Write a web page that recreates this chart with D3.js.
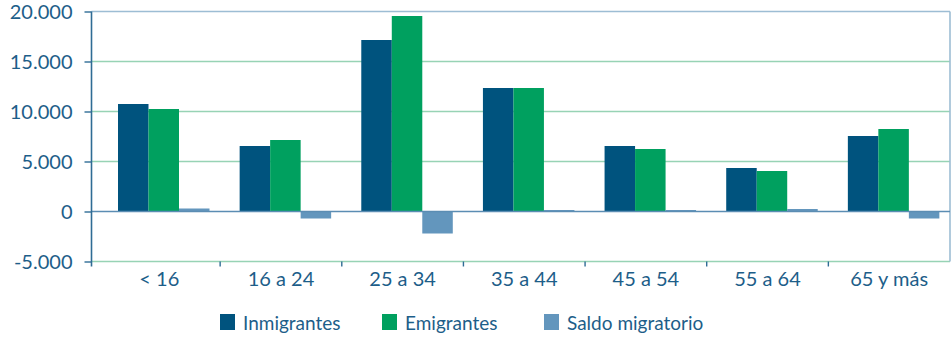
<!DOCTYPE html>
<html><head><meta charset="utf-8">
<script src="https://cdn.jsdelivr.net/npm/d3@7"></script>
<style>body{margin:0;background:#fff}svg{display:block}</style>
</head><body>
<svg id="c" width="952" height="341"></svg>
<script>
const categories = ["< 16","16 a 24","25 a 34","35 a 44","45 a 54","55 a 64","65 y más"];
const inmigrantes = [10750, 6550, 17150, 12350, 6550, 4350, 7550];
const emigrantes  = [10250, 7150, 19550, 12350, 6250, 4050, 8250];
const saldo       = [300, -700, -2200, 150, 150, 250, -700];
const seriesNames = ["Inmigrantes","Emigrantes","Saldo migratorio"];
const yTicks = [-5000, 0, 5000, 10000, 15000, 20000];

const colors = ["#00537e","#00a05f","#6396bd"];
const textColor = "#1d5e89";
const font = "Lato, 'Open Sans', sans-serif";

const svg = d3.select("#c");
const L = 91.5, R = 950, T = 11.5, B = 261.5;
const y = d3.scaleLinear().domain([-5000, 20000]).range([B, T]);
const x0 = d3.scaleBand().domain(categories).range([98.5, R]).padding(0);
const x1 = d3.scaleBand().domain(seriesNames).range([19.5, 19.5 + 91.5]).padding(0);

// gridlines
svg.append("g").selectAll("line").data(yTicks.filter(v => v !== 0 && v !== 20000)).join("line")
  .attr("x1", L).attr("x2", R).attr("y1", d => y(d)).attr("y2", d => y(d))
  .attr("stroke", "#97d3b5").attr("stroke-width", 1.6);
// top line
svg.append("line").attr("x1", L).attr("x2", R).attr("y1", y(20000)).attr("y2", y(20000))
  .attr("stroke", "#9dbdd4").attr("stroke-width", 1.6);
// right border
svg.append("line").attr("x1", R).attr("x2", R).attr("y1", T).attr("y2", B)
  .attr("stroke", "#9dbdd4").attr("stroke-width", 1.6);

// bars
const data = categories.map((c, i) => ({c, v: [inmigrantes[i], emigrantes[i], saldo[i]]}));
const g = svg.append("g").selectAll("g").data(data).join("g")
  .attr("transform", d => `translate(${x0(d.c)},0)`);
g.selectAll("rect").data(d => d.v.map((v, k) => ({k, v}))).join("rect")
  .attr("x", d => x1(seriesNames[d.k]))
  .attr("width", x1.bandwidth())
  .attr("y", d => y(Math.max(0, d.v)))
  .attr("height", d => Math.abs(y(d.v) - y(0)))
  .attr("fill", d => colors[d.k]);

// zero line
svg.append("line").attr("x1", L).attr("x2", R).attr("y1", y(0)).attr("y2", y(0))
  .attr("stroke", "#5b8db3").attr("stroke-width", 1.6);

// y axis
const yAxis = d3.axisLeft(y).tickValues(yTicks).tickSize(7).tickPadding(12)
  .tickFormat(d => d3.format(",")(d).replace(/,/g, ".").replace("−", "-"));
const ya = svg.append("g").attr("transform", `translate(${L},0)`).call(yAxis);
ya.select(".domain").remove();
ya.selectAll(".tick line").attr("stroke", "#2f6c95").attr("stroke-width", 1.4);
ya.selectAll(".tick text").attr("fill", textColor).attr("dy", "0.37em")
  .style("font-family", font).style("font-size", "20px");
svg.append("line").attr("x1", L).attr("x2", L).attr("y1", T).attr("y2", B + 5)
  .attr("stroke", "#2f6c95").attr("stroke-width", 1.6);

// x axis: ticks at band boundaries
const bounds = categories.slice(1).map(c => x0(c));
svg.append("g").selectAll("line").data(bounds).join("line")
  .attr("x1", d => d).attr("x2", d => d).attr("y1", B).attr("y2", B + 5)
  .attr("stroke", "#2f6c95").attr("stroke-width", 1.4);
svg.append("g").selectAll("text").data(categories).join("text")
  .attr("x", d => x0(d) + x0.bandwidth() / 2).attr("y", B + 24)
  .attr("text-anchor", "middle").attr("fill", textColor)
  .style("font-family", font).style("font-size", "20px").text(d => d);

// legend
const legX = [220, 382, 544];
const lg = svg.append("g").selectAll("g").data(seriesNames).join("g")
  .attr("transform", (d, i) => `translate(${legX[i]},314)`);
lg.append("rect").attr("width", 15).attr("height", 16).attr("fill", (d, i) => colors[i]);
lg.append("text").attr("x", 23).attr("y", 16).attr("fill", textColor)
  .style("font-family", font).style("font-size", "19px").text(d => d);
</script>
</body></html>
